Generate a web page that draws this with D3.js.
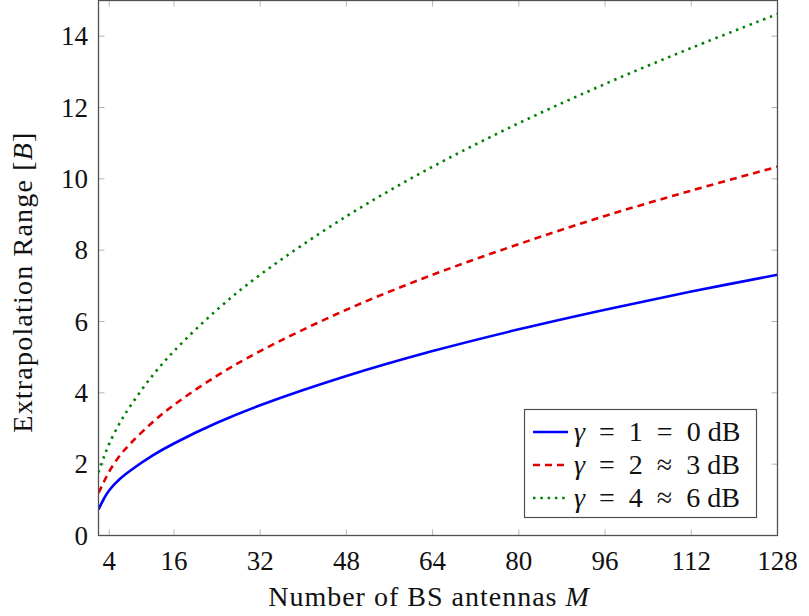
<!DOCTYPE html>
<html>
<head>
<meta charset="utf-8">
<script src="https://cdn.jsdelivr.net/npm/d3@7"></script>
<style>
  body { margin: 0; background: #fff; }
  svg { display: block; }
  text { font-family: "Liberation Serif", "DejaVu Serif", serif; fill: #111; }
</style>
</head>
<body>
<svg id="chart" width="809" height="616"></svg>
<script>
// data
const M_VALUES = [2, 3, 4, 6, 8, 12, 16, 24, 32, 48, 64, 80, 96, 112, 128];
const GAMMA1 = [0.73, 1.03, 1.27, 1.59, 1.83, 2.24, 2.58, 3.16, 3.65, 4.47, 5.17, 5.78, 6.33, 6.84, 7.31];
const GAMMA2 = [1.19, 1.50, 1.80, 2.25, 2.59, 3.17, 3.66, 4.48, 5.17, 6.33, 7.31, 8.17, 8.96, 9.67, 10.34];
const GAMMA4 = [1.77, 2.20, 2.58, 3.17, 3.65, 4.48, 5.17, 6.33, 7.31, 8.95, 10.34, 11.56, 12.66, 13.67, 14.62];
const X_TICKS = [4, 16, 32, 48, 64, 80, 96, 112, 128];
const Y_TICKS = [0, 2, 4, 6, 8, 10, 12, 14];

const SP = "\u2002";
const SERIES = [
    { label: ["γ", `${SP}=${SP}1${SP}=${SP}0 dB`], values: GAMMA1, color: "#0000ff", dash: null },
    { label: ["γ", `${SP}=${SP}2${SP}≈${SP}3 dB`], values: GAMMA2, color: "#e00000", dash: "7,5" },
    { label: ["γ", `${SP}=${SP}4${SP}≈${SP}6 dB`], values: GAMMA4, color: "#008000", dash: "2.5,4.8" },
];

const svg = d3.select("#chart");
const plotL = 98.5, plotR = 777.5, plotT = 0.5, plotB = 535.5;

const x = d3.scaleLinear().domain([2, 128]).range([plotL, plotR]);
const y = d3.scaleLinear().domain([0, 15]).range([plotB, plotT]);

// ── Ticks (inside, mirrored) ──────────────────────────────────────────────
const tickLen = 6;
const tickG = svg.append("g").attr("stroke", "#b5b5b5").attr("stroke-width", 1);
X_TICKS.forEach(t => {
    tickG.append("line").attr("x1", x(t)).attr("x2", x(t)).attr("y1", plotB).attr("y2", plotB - tickLen);
    tickG.append("line").attr("x1", x(t)).attr("x2", x(t)).attr("y1", plotT).attr("y2", plotT + tickLen);
});
Y_TICKS.forEach(t => {
    tickG.append("line").attr("x1", plotL).attr("x2", plotL + tickLen).attr("y1", y(t)).attr("y2", y(t));
    tickG.append("line").attr("x1", plotR).attr("x2", plotR - tickLen).attr("y1", y(t)).attr("y2", y(t));
});

// ── Tick labels ───────────────────────────────────────────────────────────
svg.append("g").selectAll("text")
    .data(X_TICKS).join("text")
    .attr("x", d => x(d)).attr("y", 570)
    .attr("text-anchor", "middle")
    .attr("font-size", 27)
    .text(d => d);

svg.append("g").selectAll("text")
    .data(Y_TICKS).join("text")
    .attr("x", 88).attr("y", d => y(d) + 9)
    .attr("text-anchor", "end")
    .attr("font-size", 27)
    .text(d => d);

// ── Curves ────────────────────────────────────────────────────────────────
const line = d3.line()
    .x((d, i) => x(M_VALUES[i]))
    .y(d => y(d))
    .curve(d3.curveCatmullRom.alpha(0.5));

svg.append("defs").append("clipPath").attr("id", "clip")
    .append("rect").attr("x", plotL).attr("y", plotT).attr("width", plotR - plotL).attr("height", plotB - plotT);

const plot = svg.append("g").attr("clip-path", "url(#clip)");
SERIES.forEach(s => {
    plot.append("path")
        .datum(s.values)
        .attr("fill", "none")
        .attr("stroke", s.color)
        .attr("stroke-width", 2.6)
        .attr("stroke-dasharray", s.dash)
        .attr("d", line);
});

// ── Frame ────────────────────────────────────────────────────────────────
svg.append("rect")
    .attr("x", plotL).attr("y", plotT)
    .attr("width", plotR - plotL).attr("height", plotB - plotT)
    .attr("fill", "none").attr("stroke", "#505050").attr("stroke-width", 1.3);

// ── Axis titles ──────────────────────────────────────────────────────────
const xt = svg.append("text")
    .attr("x", 429).attr("y", 606)
    .attr("text-anchor", "middle").attr("font-size", 28)
    .attr("letter-spacing", 1);
xt.append("tspan").text("Number of BS antennas ");
xt.append("tspan").attr("font-style", "italic").text("M");

const yt = svg.append("text")
    .attr("transform", "translate(32,282) rotate(-90)")
    .attr("text-anchor", "middle").attr("font-size", 28)
    .attr("letter-spacing", 1.2);
yt.append("tspan").text("Extrapolation Range [");
yt.append("tspan").attr("font-style", "italic").text("B");
yt.append("tspan").text("]");

// ── Legend ───────────────────────────────────────────────────────────────
const lg = svg.append("g");
lg.append("rect")
    .attr("x", 524.5).attr("y", 409.5).attr("width", 232).attr("height", 108)
    .attr("fill", "#fff").attr("stroke", "#505050").attr("stroke-width", 1.2);
SERIES.forEach((s, i) => {
    const cy = 432 + i * 33;
    lg.append("line")
        .attr("x1", 533).attr("x2", 568).attr("y1", cy).attr("y2", cy)
        .attr("stroke", s.color).attr("stroke-width", 2.6)
        .attr("stroke-dasharray", s.dash);
    const t = lg.append("text")
        .attr("x", 574).attr("y", cy + 9).attr("font-size", 28);
    t.append("tspan").attr("font-style", "italic").text(s.label[0]);
    t.append("tspan").text(s.label[1]);
});
</script>
</body>
</html>
